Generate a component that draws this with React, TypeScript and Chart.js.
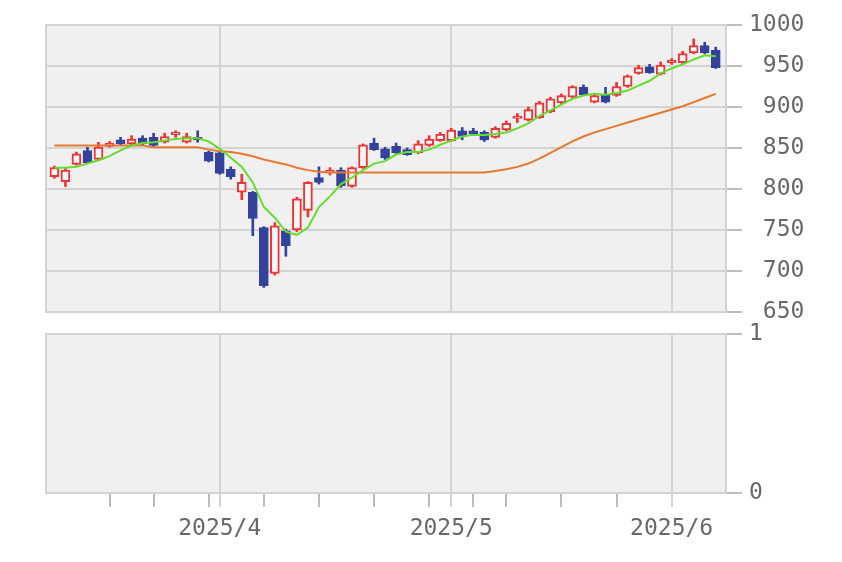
import React, { useEffect, useRef } from 'react';
import { Chart, registerables } from 'chart.js';

Chart.register(...registerables);

// ---- data (trading days 2025/3/10 .. 2025/6/6) ----
const opens = [815, 809, 830, 847, 836, 852, 860, 855, 862, 863, 857, 866, 857, 863, 845, 844, 824, 796, 796, 753, 697, 749, 750, 774, 814, 820, 823, 803, 826, 856, 849, 852, 848, 844, 853, 859, 859, 871, 871, 869, 863, 872, 886, 884, 887, 894, 905, 912, 924, 906, 915, 914, 925, 941, 949, 940, 954, 954, 966, 975, 969];
const closes = [826, 823, 843, 832, 851, 856, 855, 861, 855, 853, 864, 869, 864, 860, 834, 819, 815, 808, 764, 682, 755, 731, 788, 808, 808, 823, 804, 826, 854, 848, 838, 844, 842, 855, 861, 867, 872, 864, 867, 860, 874, 880, 889, 897, 905, 910, 914, 925, 915, 914, 906, 925, 938, 948, 942, 951, 957, 965, 975, 966, 948];
const highs = [828, 825, 845, 851, 857, 858, 863, 865, 865, 868, 868, 871, 868, 871, 846, 845, 827, 818, 797, 754, 759, 751, 790, 809, 827, 826, 826, 827, 855, 862, 851, 856, 850, 859, 865, 869, 874, 875, 874, 871, 876, 883, 892, 900, 907, 912, 916, 926, 927, 915, 924, 930, 939, 951, 952, 955, 959, 968, 983, 979, 973];
const lows = [813, 803, 829, 831, 835, 851, 854, 854, 854, 852, 856, 863, 856, 857, 833, 818, 812, 787, 743, 680, 695, 718, 748, 766, 806, 817, 802, 802, 825, 847, 836, 843, 841, 843, 852, 858, 858, 860, 866, 858, 862, 871, 881, 883, 886, 893, 904, 911, 914, 905, 905, 913, 924, 940, 941, 939, 952, 953, 965, 965, 947];
const maShort = [826, 826, 827, 831, 835, 840, 847, 853, 856, 857, 859, 861, 862, 862, 858, 849, 838, 827, 808, 778, 765, 748, 744, 753, 778, 791, 806, 814, 823, 831, 834, 842, 845, 845, 848, 854, 859, 864, 866, 866, 867, 869, 874, 880, 889, 896, 903, 910, 914, 916, 915, 917, 920, 926, 932, 941, 947, 952, 958, 963, 962];
const maLong = [853, 853, 853, 853, 853, 853, 853, 853, 853, 851, 851, 851, 851, 851, 848, 846, 845, 843, 840, 836, 833, 830, 826, 823, 821, 820, 820, 820, 820, 820, 820, 820, 820, 820, 820, 820, 820, 820, 820, 820, 822, 824, 827, 831, 837, 844, 851, 858, 864, 869, 873, 877, 881, 885, 889, 893, 897, 901, 906, 911, 916];

const monthTickIdx = [15, 36, 56];
const monthTickLabels = ['2025/4', '2025/5', '2025/6'];
const weekTickIdx = [5, 9, 14, 19, 24, 29, 34, 38, 41, 46, 51];
const priceMin = 650;
const priceMax = 1000;
const priceStep = 50;
const volMin = 0;
const volMax = 1;

// ---- style ----
const X_MIN = -0.762;
const X_MAX = 60.93;
const BG = '#f0f0f0';
const GRID = '#d3d3d3';
const TICKC = '#bdbdbd';
const TEXT = '#686868';
const RED = '#ee3535';
const BLUE = '#33439c';
const HOLLOW = '#f7f7f7';
const GREEN = '#66dd2e';
const ORANGE = '#e8782f';
const FONT = { family: "'DejaVu Sans Mono', monospace", size: 23 };

const panelPlugin = {
  id: 'panelBg',
  beforeDraw(chart: any) {
    const { ctx, chartArea: a } = chart;
    ctx.save();
    ctx.fillStyle = BG;
    ctx.fillRect(a.left, a.top, a.right - a.left, a.bottom - a.top);
    ctx.restore();
  },
  afterDraw(chart: any) {
    const { ctx, chartArea: a } = chart;
    ctx.save();
    ctx.strokeStyle = GRID;
    ctx.lineWidth = 2;
    ctx.strokeRect(a.left, a.top, a.right - a.left, a.bottom - a.top);
    ctx.restore();
  },
};

export default function App() {
  const topRef = useRef<HTMLCanvasElement>(null);
  const botRef = useRef<HTMLCanvasElement>(null);

  useEffect(() => {
    const idx = opens.map((_, i) => i);
    const isUp = (i: number) => closes[i] >= opens[i];

    const top = new Chart(topRef.current as HTMLCanvasElement, {
      type: 'bar',
      data: {
        datasets: [
          {
            type: 'line',
            label: 'MA short',
            data: idx.map((i) => ({ x: i, y: maShort[i] })),
            borderColor: GREEN,
            borderWidth: 2,
            pointRadius: 0,
            tension: 0,
            order: 0,
          } as any,
          {
            type: 'line',
            label: 'MA long',
            data: idx.map((i) => ({ x: i, y: maLong[i] })),
            borderColor: ORANGE,
            borderWidth: 2,
            pointRadius: 0,
            tension: 0,
            order: 0,
          } as any,
          {
            type: 'bar',
            label: 'body',
            data: idx.map((i) => ({ x: i, y: [opens[i], closes[i]] })),
            backgroundColor: idx.map((i) => (isUp(i) ? HOLLOW : BLUE)),
            borderColor: idx.map((i) => (isUp(i) ? RED : BLUE)),
            borderWidth: 2,
            borderSkipped: false,
            barThickness: 9,
            grouped: false,
            order: 1,
          } as any,
          {
            type: 'bar',
            label: 'wick',
            data: idx.map((i) => ({ x: i, y: [lows[i], highs[i]] })),
            backgroundColor: idx.map((i) => (isUp(i) ? RED : BLUE)),
            borderWidth: 0,
            barThickness: 2,
            grouped: false,
            order: 2,
          } as any,
        ],
      },
      options: {
        responsive: false,
        maintainAspectRatio: false,
        animation: false,
        layout: { padding: { left: 46, top: 25, right: 0, bottom: 22 } },
        plugins: { legend: { display: false }, tooltip: { enabled: false } },
        scales: {
          x: {
            type: 'linear',
            min: X_MIN,
            max: X_MAX,
            offset: false,
            afterBuildTicks: (s: any) => {
              s.ticks = monthTickIdx.map((v) => ({ value: v }));
            },
            afterFit: (s: any) => {
              s.height = 0;
            },
            ticks: { display: false },
            grid: { color: GRID, lineWidth: 2, drawTicks: false, offset: false },
            border: { display: false },
          },
          y: {
            type: 'linear',
            position: 'right',
            min: priceMin,
            max: priceMax,
            afterFit: (s: any) => {
              s.width = 116;
            },
            ticks: {
              stepSize: priceStep,
              font: FONT,
              color: TEXT,
              padding: 7,
              crossAlign: 'near',
              callback: (v: any) => String(v).padStart(4, ' '),
            },
            grid: { color: GRID, lineWidth: 2, tickLength: 16, tickColor: TICKC },
            border: { display: false },
          },
        },
      } as any,
      plugins: [panelPlugin],
    });

    const allTicks = [...weekTickIdx, ...monthTickIdx].sort((a, b) => a - b);
    const isMonth = (v: number) => monthTickIdx.includes(v);

    const bot = new Chart(botRef.current as HTMLCanvasElement, {
      type: 'bar',
      data: { datasets: [{ label: 'volume', data: [] }] },
      options: {
        responsive: false,
        maintainAspectRatio: false,
        animation: false,
        layout: { padding: { left: 46, top: 22, right: 0, bottom: 0 } },
        plugins: { legend: { display: false }, tooltip: { enabled: false } },
        scales: {
          x: {
            type: 'linear',
            min: X_MIN,
            max: X_MAX,
            offset: false,
            afterBuildTicks: (s: any) => {
              s.ticks = allTicks.map((v) => ({ value: v }));
            },
            afterFit: (s: any) => {
              s.height = 69;
            },
            ticks: {
              autoSkip: false,
              maxRotation: 0,
              minRotation: 0,
              font: FONT,
              color: TEXT,
              padding: 8,
              callback: (v: any) => {
                const k = monthTickIdx.indexOf(Number(v));
                return k >= 0 ? monthTickLabels[k] : '';
              },
            },
            grid: {
              offset: false,
              lineWidth: 2,
              tickLength: 14,
              color: (c: any) => (c.tick && isMonth(c.tick.value) ? GRID : 'rgba(0,0,0,0)'),
              tickColor: (c: any) => (c.tick && isMonth(c.tick.value) ? GRID : TICKC),
            },
            border: { display: false },
          },
          y: {
            type: 'linear',
            position: 'right',
            min: volMin,
            max: volMax,
            afterFit: (s: any) => {
              s.width = 116;
            },
            ticks: { stepSize: 1, font: FONT, color: TEXT, padding: 7, crossAlign: 'near' },
            grid: { color: GRID, lineWidth: 2, tickLength: 16, tickColor: TICKC },
            border: { display: false },
          },
        },
      } as any,
      plugins: [panelPlugin],
    });

    return () => {
      top.destroy();
      bot.destroy();
    };
  }, []);

  return (
    <div style={{ position: 'absolute', left: 0, top: 0, width: 842, height: 562, background: '#ffffff' }}>
      <canvas ref={topRef} width={842} height={334} style={{ position: 'absolute', left: 0, top: 0 }} />
      <canvas ref={botRef} width={842} height={250} style={{ position: 'absolute', left: 0, top: 312 }} />
    </div>
  );
}
